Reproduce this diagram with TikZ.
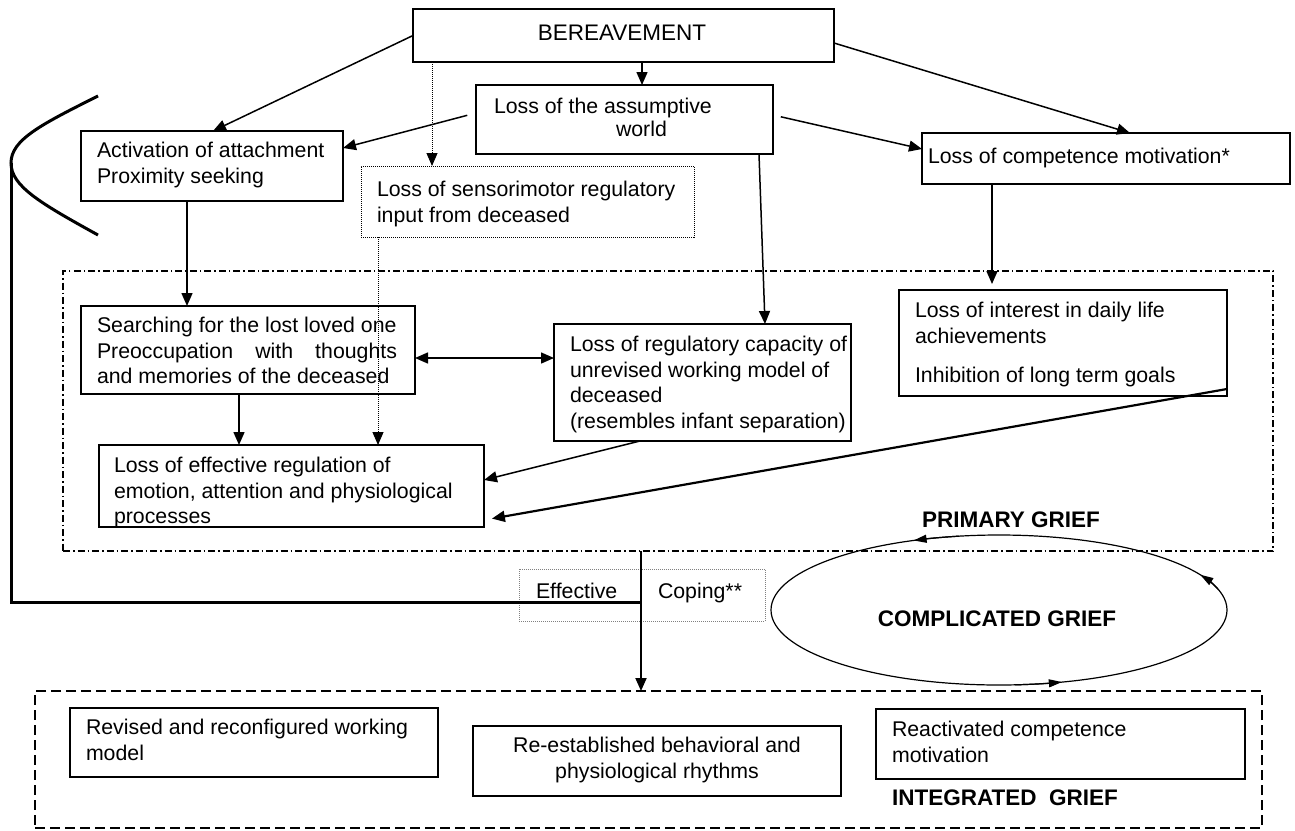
\documentclass[tikz,border=0pt]{standalone}
\usepackage{fontspec}
\setmainfont{Liberation Sans}
\usetikzlibrary{arrows.meta,fit,calc}
\begin{document}
\begin{tikzpicture}[x=1pt,y=-1pt,
  every node/.style={inner sep=0pt, outer sep=0pt},
  box/.style={draw, line width=1.5pt, fit={#1}, inner sep=0pt},
  dotbox/.style={draw, line width=1pt, dash pattern=on 1pt off 1pt, fit={#1}, inner sep=0pt},
  txt/.style={font=\fontsize{21.3}{25.5}\selectfont, align=left, anchor=north west, inner sep=0pt},
  lbl/.style={font=\fontsize{22.5}{27}\selectfont\bfseries, inner sep=0pt},
  arr/.style={line width=1.5pt, -{Triangle[length=13pt,width=11pt]}},
  dotarr/.style={line width=1pt, dash pattern=on 1pt off 1pt, -{Triangle[length=13pt,width=11pt]}},
  ellarr/.style={line width=1.2pt, -{Triangle[length=13pt,width=8pt]}},
]
\fill[white] (0,0) rectangle (1295,830);
\useasboundingbox (0,0) rectangle (1295,830);

% group frames
\node[draw, line width=1.2pt, dash pattern=on 7pt off 3pt on 1.5pt off 3pt, fit={(63,271) (1273,551)}, inner sep=0pt] (primary) {};
\node[draw, line width=1.4pt, dash pattern=on 10pt off 5pt, fit={(35,691) (1262,828)}, inner sep=0pt] (integ) {};

% boxes
\node[box={(413,9) (834,62)}] (bere) {};
\node[box={(476,85) (773,154)}] (assum) {};
\node[box={(81,131) (343,201)}] (act) {};
\node[dotbox={(361,166) (694,237)}] (sens) {};
\node[box={(922,133) (1290,184)}] (comp) {};
\node[box={(81,306) (415,394)}] (search) {};
\node[box={(554,324) (851,441)}] (reg) {};
\node[box={(899,290) (1227,396)}] (interest) {};
\node[box={(99,445) (484,527)}] (eff) {};
\node[draw=gray, line width=0.7pt, dash pattern=on 1pt off 1pt, fit={(519,569) (765,621)}, inner sep=0pt] (cope) {};
\node[box={(70,708) (438,777)}] (revised) {};
\node[box={(473,726) (841,796)}] (reest) {};
\node[box={(876,709) (1245,779)}] (react) {};

% texts
\node[txt, font=\fontsize{22.5}{27}\selectfont, anchor=base] (bere-t) at (622,40) {BEREAVEMENT};
\node[txt] (assum-t) at (494,96) {\strut Loss of the assumptive\\[-2.5pt]\strut\hspace*{122pt}world};
\node[txt] (act-t) at (97,140) {\strut Activation of attachment\\\strut Proximity seeking};
\node[txt] (sens-t) at (377,179) {\strut Loss of sensorimotor regulatory\\\strut input from deceased};
\node[txt, anchor=base west] (comp-t) at (928,163) {Loss of competence motivation*};
\node[txt] (search-t) at (97,315) {\strut Searching for the lost loved one\\\strut\makebox[300pt][s]{Preoccupation with thoughts}\\\strut and memories of the deceased};
\node[txt] (reg-t) at (570,334) {\strut Loss of regulatory capacity of\\\strut unrevised working model of\\\strut deceased\\\strut (resembles infant separation)};
\node[txt] (interest-t) at (915,300) {\strut Loss of interest in daily life\\\strut achievements\\[13.5pt]\strut Inhibition of long term goals};
\node[txt] (eff-t) at (114,455) {\strut Loss of effective regulation of\\\strut emotion, attention and physiological\\\strut processes};
\node[txt] (revised-t) at (86,717) {\strut Revised and reconfigured working\\\strut model};
\node[txt, align=center, anchor=north] (reest-t) at (657,735) {\strut Re-established behavioral and\\\strut physiological rhythms};
\node[txt] (react-t) at (892,719) {\strut Reactivated competence\\\strut motivation};
\node[txt, anchor=base west] (effective-t) at (536,598) {Effective};
\node[txt, anchor=base west] (coping-t) at (658,598) {Coping**};
\node[lbl, anchor=base west] (primary-t) at (922,527) {PRIMARY GRIEF};
\node[lbl, anchor=base] (cg-t) at (997,626) {COMPLICATED GRIEF};
\node[lbl, anchor=base west] (integ-t) at (892,805) {INTEGRATED\ \ GRIEF};

% connectors
\draw[arr] (bere.south -| 642,0) -- (assum.north -| 642,0);
\draw[dotarr] (bere.south -| 432,0) -- (sens.north -| 432,0);
\draw[arr] (bere.west) -- (act.north -| 213,0);
\draw[arr, shorten <=9pt] (assum.west |- 0,113) -- (act.east |- 0,148);
\draw[arr] (bere.east |- 0,43) -- (comp.north -| 1130,0);
\draw[arr, shorten <=8pt] (assum.east |- 0,115) -- (comp.west |- 0,149);
\draw[arr] (act.south -| 187,0) -- (search.north -| 187,0);
\draw[dotarr] (sens.south -| 378,0) -- (eff.north -| 378,0);
\draw[arr] (search.south -| 239,0) -- (eff.north -| 239,0);
\draw[arr, {Triangle[length=13pt,width=11pt]}-{Triangle[length=13pt,width=11pt]}] (search.east |- 0,358) -- (reg.west |- 0,358);
\draw[arr] (assum.south -| 759,0) -- (reg.north -| 765,0);
\draw[arr, shorten >=6pt] (comp.south -| 992,0) -- (interest.north -| 992,0);
\draw[arr] (reg.south -| 640,0) -- (eff.east |- 0,480);
\draw[arr, line width=2.2pt, shorten >=8pt] (interest.east |- 0,389) -- (eff.east |- 0,520);
\draw[arr, line width=2pt] (primary.south -| 641,0) -- (integ.north -| 641,0);

% thick bracket and effective-coping path
\coordinate (br) at (11,163);
\coordinate (join) at (641,602);
\draw[line width=3pt] (98,96) .. controls (40,125) and (11,140) .. (br) .. controls (11,186) and (40,203) .. (98,235);
\draw[line width=3pt] (br) |- (join);

% complicated grief cycle
\coordinate (cgc) at (999,610);
\draw[line width=1.2pt] (cgc) ellipse [x radius=228pt, y radius=75pt];
\draw[ellarr] ([shift={(100:228pt and 75pt)}]cgc) arc[start angle=100, end angle=112, x radius=228pt, y radius=75pt];
\draw[ellarr] ([shift={(16:228pt and 75pt)}]cgc) arc[start angle=16, end angle=28, x radius=228pt, y radius=75pt];
\draw[ellarr] ([shift={(-86:228pt and 75pt)}]cgc) arc[start angle=-86, end angle=-74, x radius=228pt, y radius=75pt];
\end{tikzpicture}
\end{document}
